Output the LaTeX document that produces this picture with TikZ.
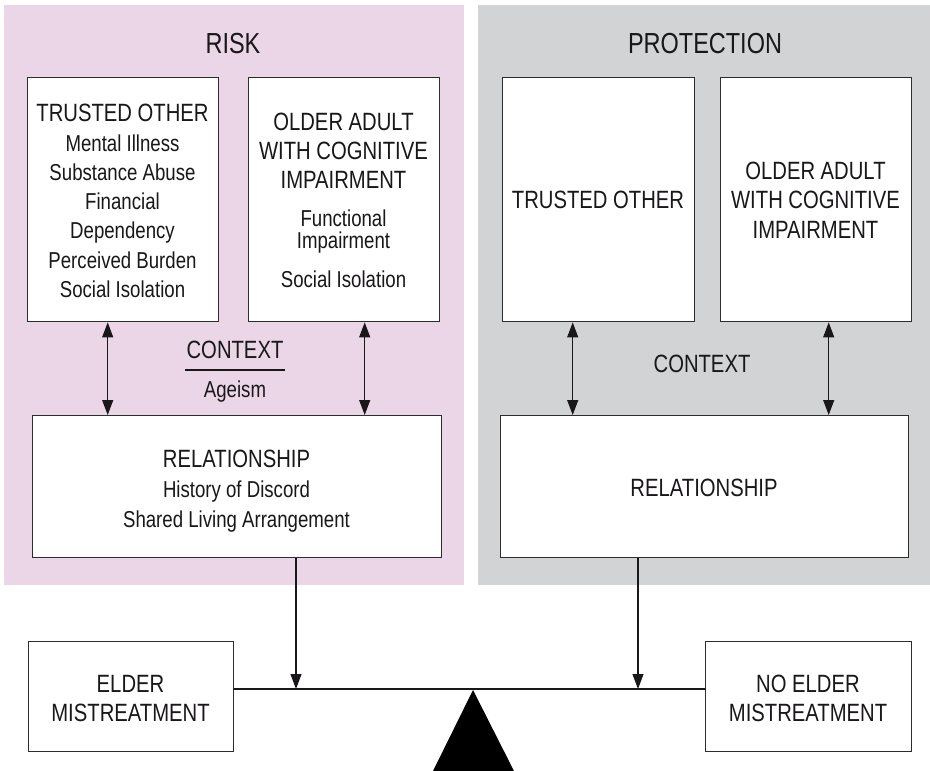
\documentclass[tikz,border=0pt]{standalone}
\usepackage{fontspec}
\setmainfont{Liberation Sans}[FakeStretch=0.81]
\usetikzlibrary{arrows.meta}
\definecolor{riskbg}{RGB}{235,214,232}
\definecolor{protbg}{RGB}{209,211,212}
\definecolor{edgecol}{RGB}{45,45,45}
\definecolor{inkcol}{RGB}{25,23,25}
\newcommand\fTitle{\fontsize{29}{34}\selectfont}
\newcommand\fHead{\fontsize{25}{29}\selectfont}
\newcommand\fBody{\fontsize{23}{29}\selectfont}
\begin{document}
\begin{tikzpicture}[x=1pt,y=-1pt,
  panel/.style={draw=none,inner sep=0pt,anchor=north west},
  box/.style={draw=edgecol,line width=1.4pt,fill=white,inner sep=0pt,anchor=north west},
  txt/.style={anchor=base,inner sep=0pt,text=inkcol},
  conn/.style={draw=inkcol,line width=1.1pt},
  tip/.style={-{Triangle[length=15pt,width=11pt]}},
  dtip/.style={{Triangle[length=15pt,width=11pt]}-{Triangle[length=15pt,width=11pt]}}]
\useasboundingbox (0,0) rectangle (930,771);
% panels
\node[panel,fill=riskbg,minimum width=460pt,minimum height=580pt] (riskp) at (4,5) {};
\node[panel,fill=protbg,minimum width=452pt,minimum height=580pt] (protp) at (478,5) {};
\node[txt,font=\fTitle] (risk) at (233,53) {RISK};
\node[txt,font=\fTitle] (prot) at (705,53) {PROTECTION};
% risk boxes
\node[box,minimum width=191pt,minimum height=244pt] (rto) at (27,77) {};
\node[box,minimum width=191pt,minimum height=244pt] (roa) at (248,77) {};
\node[txt,font=\fHead] (rto1) at (122.5,121) {TRUSTED OTHER};
\node[txt,font=\fBody] (rto2) at (122.5,151) {Mental Illness};
\node[txt,font=\fBody] (rto3) at (122.5,180) {Substance Abuse};
\node[txt,font=\fBody] (rto4) at (122.5,209) {Financial};
\node[txt,font=\fBody] (rto5) at (122.5,238) {Dependency};
\node[txt,font=\fBody] (rto6) at (122.5,268) {Perceived Burden};
\node[txt,font=\fBody] (rto7) at (122.5,297) {Social Isolation};
\node[txt,font=\fHead] (roa1) at (343.5,130) {OLDER ADULT};
\node[txt,font=\fHead] (roa2) at (343.5,159) {WITH COGNITIVE};
\node[txt,font=\fHead] (roa3) at (343.5,188) {IMPAIRMENT};
\node[txt,font=\fBody] (roa4) at (343.5,226) {Functional};
\node[txt,font=\fBody] (roa5) at (343.5,248) {Impairment};
\node[txt,font=\fBody] (roa6) at (343.5,287) {Social Isolation};
% risk context
\node[txt,font=\fHead] (rctx) at (235,358) {CONTEXT};
\draw[draw=inkcol,line width=1.1pt] (185,370) -- (285,370);
\node[txt,font=\fBody] (rage) at (235,397) {Ageism};
% risk relationship
\node[box,minimum width=409pt,minimum height=142pt] (rrel) at (32,415) {};
\node[txt,font=\fHead] (rrel1) at (236.5,467) {RELATIONSHIP};
\node[txt,font=\fBody] (rrel2) at (236.5,497) {History of Discord};
\node[txt,font=\fBody] (rrel3) at (236.5,527) {Shared Living Arrangement};
% protection boxes
\node[box,minimum width=192pt,minimum height=244pt] (pto) at (502,77) {};
\node[box,minimum width=191pt,minimum height=244pt] (poa) at (720,77) {};
\node[txt,font=\fHead] (pto1) at (598,208) {TRUSTED OTHER};
\node[txt,font=\fHead] (poa1) at (815.5,179) {OLDER ADULT};
\node[txt,font=\fHead] (poa2) at (815.5,208) {WITH COGNITIVE};
\node[txt,font=\fHead] (poa3) at (815.5,238) {IMPAIRMENT};
\node[txt,font=\fHead] (pctx) at (702,372) {CONTEXT};
\node[box,minimum width=408pt,minimum height=142pt] (prel) at (500,415) {};
\node[txt,font=\fHead] (prel1) at (704,496) {RELATIONSHIP};
% outcome boxes
\node[box,minimum width=205pt,minimum height=110pt] (em) at (28,641) {};
\node[txt,font=\fHead] (em1) at (130.5,692) {ELDER};
\node[txt,font=\fHead] (em2) at (130.5,721) {MISTREATMENT};
\node[box,minimum width=206pt,minimum height=110pt] (nem) at (705,641) {};
\node[txt,font=\fHead] (nem1) at (808,692) {NO ELDER};
\node[txt,font=\fHead] (nem2) at (808,721) {MISTREATMENT};
% beam and fulcrum
\coordinate (bl) at (em.east |- 0,689);
\coordinate (br) at (nem.west |- 0,689);
\draw[conn] (bl) -- (br);
\coordinate (apex) at (473,690);
\fill[black] (apex) -- (514,771) -- (433,771) -- cycle;
% connectors
\draw[conn,dtip] ([xshift=-15.5pt]rto.south) -- ([xshift=-15.5pt]rto.south |- rrel.north);
\draw[conn,dtip] ([xshift=20.5pt]roa.south) -- ([xshift=20.5pt]roa.south |- rrel.north);
\draw[conn,dtip] ([xshift=-26pt]pto.south) -- ([xshift=-26pt]pto.south |- prel.north);
\draw[conn,dtip] ([xshift=12.5pt]poa.south) -- ([xshift=12.5pt]poa.south |- prel.north);
\coordinate (rhit) at (296,689);
\coordinate (phit) at (638,689);
\draw[conn,tip] (rrel.south -| rhit) -- (rhit);
\draw[conn,tip] (prel.south -| phit) -- (phit);
\end{tikzpicture}
\end{document}
